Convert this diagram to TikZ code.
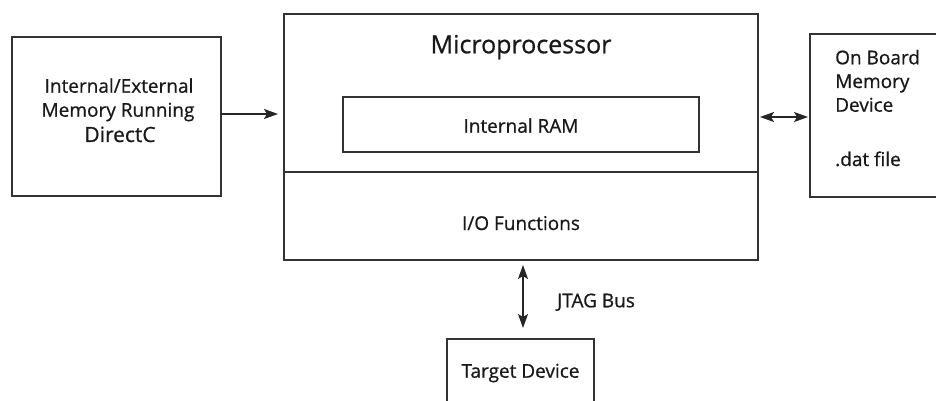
\documentclass[tikz,border=0pt]{standalone}
\usepackage{fontspec}
\setmainfont{Open Sans}[BoldFont={Open Sans},BoldFeatures={FakeBold=0.7}]
\usetikzlibrary{arrows.meta}
\begin{document}
\begin{tikzpicture}[x=1pt,y=-1pt,
  boxline/.style={draw=black!80,line width=1.3pt},
  txt/.style={anchor=base,inner sep=0pt,font=\fontsize{19}{19}\selectfont\bfseries,text=black!90},
  ltxt/.style={anchor=base west,inner sep=0pt,font=\fontsize{19}{19}\selectfont\bfseries,text=black!90},
  tip/.style={Stealth[length=14pt,width=10pt,inset=3pt]},
  arr/.style={draw=black!85,line width=1.3pt,-{Stealth[length=14pt,width=10pt,inset=3pt]}},
  darr/.style={draw=black!85,line width=1.3pt,{Stealth[length=14pt,width=10pt,inset=3pt]}-{Stealth[length=14pt,width=10pt,inset=3pt]}}]
\clip (0,0) rectangle (936,401);
\fill[white] (0,0) rectangle (936,401);
% boxes
\node[boxline,inner sep=0pt,minimum width=209pt,minimum height=159pt] (left) at (116.5,116.5) {};
\node[boxline,inner sep=0pt,minimum width=474pt,minimum height=246pt] (mp) at (521,137) {};
\node[boxline,inner sep=0pt,minimum width=356pt,minimum height=55pt] (ram) at (521,124.5) {};
\node[boxline,inner sep=0pt,minimum width=140pt,minimum height=163pt] (obm) at (880,115.5) {};
\node[boxline,inner sep=0pt,minimum width=147pt,minimum height=70pt] (tgt) at (520.5,374) {};
\coordinate (divL) at (284,172);
\coordinate (divR) at (758,172);
\draw[boxline] (divL) -- (divR);
% texts
\node[txt] (t1) at (119,92.7) {Internal/External};
\node[txt] (t2) at (118,116.7) {Memory Running};
\node[txt,font=\fontsize{21}{21}\selectfont\bfseries] (t3) at (120,142) {DirectC};
\node[txt,font=\fontsize{25}{25}\selectfont\bfseries] (t4) at (521,53.3) {Microprocessor};
\node[txt] (t5) at (521,132.7) {Internal RAM};
\node[txt] (t6) at (521,230) {I/O Functions};
\node[ltxt] (t7) at (835,64.3) {On Board};
\node[ltxt] (t8) at (835,88) {Memory};
\node[ltxt] (t9) at (835,111.7) {Device};
\node[ltxt] (t10) at (835,166) {.dat file};
\node[ltxt] (t11) at (557,307.3) {JTAG Bus};
\node[txt] (t12) at (520.5,377.7) {Target Device};
% connectors
\coordinate (a1) at (221,114);
\coordinate (a2) at (278,114);
\draw[arr] (a1) -- (a2);
\coordinate (b1) at (760,117);
\coordinate (b2) at (808,117);
\draw[darr] (b1) -- (b2);
\coordinate (c1) at (523,265);
\coordinate (c2) at (523,328);
\draw[darr] (c1) -- (c2);
\end{tikzpicture}
\end{document}
